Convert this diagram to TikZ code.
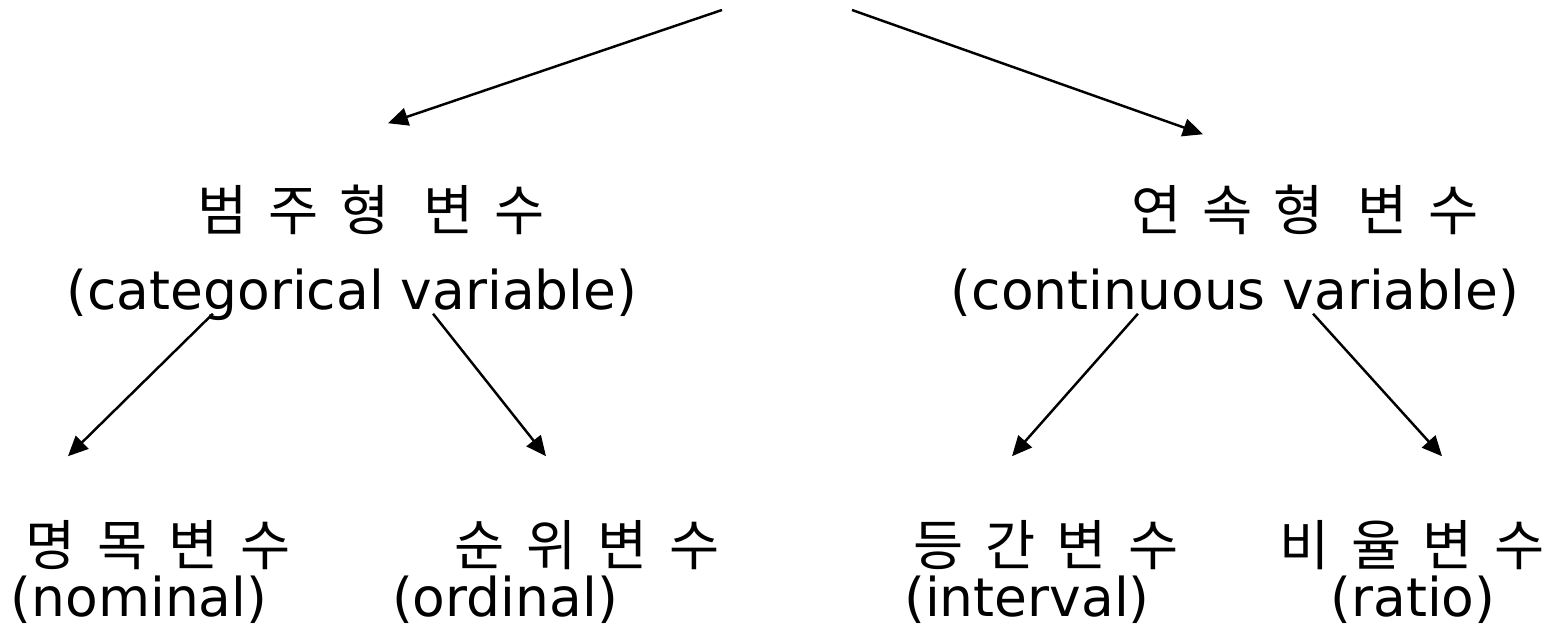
\documentclass[tikz,border=0pt]{standalone}
\usepackage{fontspec}
\usetikzlibrary{arrows.meta}
\setmainfont{DejaVu Sans}
\newfontfamily\krfont[LetterSpace=39]{Noto Sans CJK KR}
\begin{document}
\begin{tikzpicture}[x=0.01cm, y=-0.01cm,
    kr/.style={inner sep=0, text height=0.45cm, text depth=0.05cm, font=\krfont\fontsize{15.5}{18}\selectfont},
    en/.style={inner sep=0, text height=0.40cm, text depth=0.12cm, font=\fontsize{15.2}{18}\selectfont},
    arr/.style={-{Triangle[length=0.2cm, width=0.18cm]}, line width=0.7pt}]
    \useasboundingbox (0,0) rectangle (1554,627);
    % top
    \coordinate (topL) at (722,10);
    \coordinate (topR) at (852,10);
    % second level
    \node[kr] (cat) at (371,210) {범주형 변수};
    \node[en] (catE) at (352,295) {(categorical variable)};
    \node[kr] (con) at (1305,210) {연속형 변수};
    \node[en] (conE) at (1235,295) {(continuous variable)};
    % leaves
    \node[kr] (nom) at (158,545) {명목변수};
    \node[en] (nomE) at (139,602) {(nominal)};
    \node[kr] (ord) at (587,545) {순위변수};
    \node[en] (ordE) at (505,602) {(ordinal)};
    \node[kr] (int) at (1046,545) {등간변수};
    \node[en] (intE) at (1027,602) {(interval)};
    \node[kr] (rat) at (1412,545) {비율변수};
    \node[en] (ratE) at (1413,602) {(ratio)};
    % arrows
    \draw[arr] (topL) -- ([xshift=0.17cm, yshift=0.61cm]cat.north);
    \draw[arr] (topR) -- ([xshift=-1.02cm, yshift=0.50cm]con.north);
    \draw[arr] ([xshift=-1.39cm, yshift=0.08cm]catE.south) -- ([xshift=-0.90cm, yshift=0.63cm]nom.north);
    \draw[arr] ([xshift=0.81cm, yshift=0.08cm]catE.south) -- ([xshift=-0.41cm, yshift=0.63cm]ord.north);
    \draw[arr] ([xshift=-0.97cm, yshift=0.08cm]conE.south) -- ([xshift=-0.34cm, yshift=0.63cm]int.north);
    \draw[arr] ([xshift=0.78cm, yshift=0.08cm]conE.south) -- ([xshift=0.30cm, yshift=0.63cm]rat.north);
\end{tikzpicture}
\end{document}
